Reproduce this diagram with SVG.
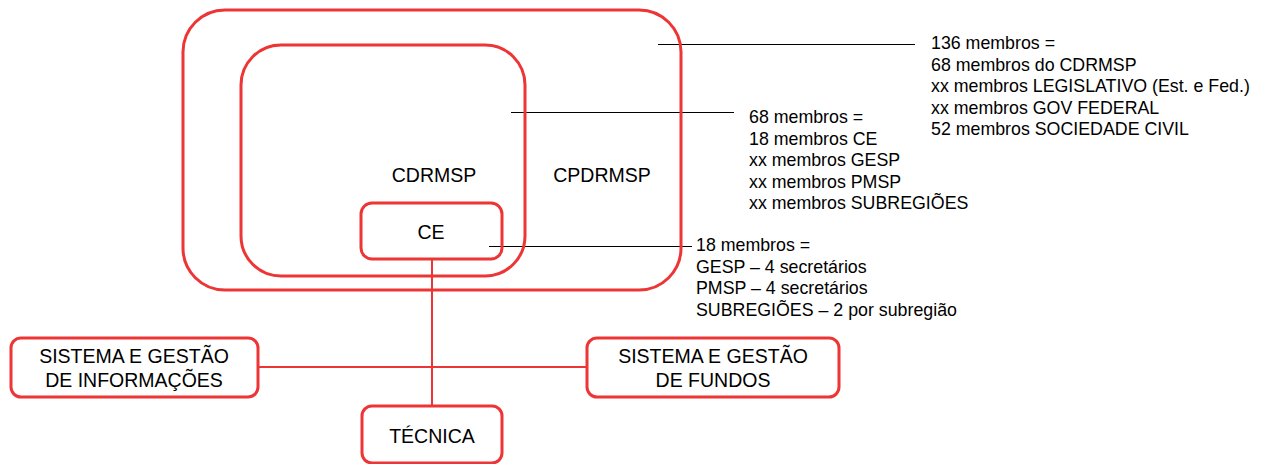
<svg xmlns="http://www.w3.org/2000/svg" width="1266" height="464" viewBox="0 0 1266 464">
<style>
.box{fill:none;stroke:#ee3535;stroke-width:3}
.con{fill:none;stroke:#ee3535;stroke-width:2}
.lead{fill:none;stroke:#000;stroke-width:1}
.lbl{font-family:"Liberation Sans",Arial,sans-serif;font-size:19.5px;fill:#000;text-anchor:middle}
.note{font-family:"Liberation Sans",Arial,sans-serif;font-size:17.8px;fill:#000}
</style>
<rect width="1266" height="464" fill="#fff"/>
<g id="connectors">
<line class="con" x1="432" y1="259" x2="432" y2="406"/>
<line class="con" x1="258" y1="367" x2="587" y2="367"/>
<line class="lead" x1="658" y1="44.5" x2="915" y2="44.5"/>
<line class="lead" x1="511" y1="112.5" x2="734" y2="112.5"/>
<line class="lead" x1="489" y1="246.5" x2="692" y2="246.5"/>
</g>
<g id="cpdrmsp">
<rect class="box" x="183" y="10" width="498" height="280" rx="42" ry="42"/>
<text class="lbl" x="602" y="182">CPDRMSP</text>
</g>
<g id="cdrmsp">
<rect class="box" x="241" y="45" width="284" height="231" rx="40" ry="40"/>
<text class="lbl" x="434" y="182">CDRMSP</text>
</g>
<g id="ce">
<rect class="box" x="361" y="203" width="141" height="56" rx="11" ry="11"/>
<text class="lbl" x="431" y="239">CE</text>
</g>
<g id="sgi">
<rect class="box" x="11" y="338" width="247" height="59" rx="10" ry="10"/>
<text class="lbl" x="134" y="363">SISTEMA E GESTÃO</text>
<text class="lbl" x="134" y="387">DE INFORMAÇÕES</text>
</g>
<g id="sgf">
<rect class="box" x="587" y="338" width="252" height="59" rx="10" ry="10"/>
<text class="lbl" x="713" y="363">SISTEMA E GESTÃO</text>
<text class="lbl" x="713" y="387">DE FUNDOS</text>
</g>
<g id="tecnica">
<rect class="box" x="362" y="406" width="140" height="57" rx="10" ry="10"/>
<text class="lbl" x="432" y="443">TÉCNICA</text>
</g>
<g id="note136">
<text class="note" x="931" y="49">136 membros =</text>
<text class="note" x="931" y="70.5">68 membros do CDRMSP</text>
<text class="note" x="931" y="92">xx membros LEGISLATIVO (Est. e Fed.)</text>
<text class="note" x="931" y="113.5">xx membros GOV FEDERAL</text>
<text class="note" x="931" y="135">52 membros SOCIEDADE CIVIL</text>
</g>
<g id="note68">
<text class="note" x="749" y="123">68 membros =</text>
<text class="note" x="749" y="144.5">18 membros CE</text>
<text class="note" x="749" y="166">xx membros GESP</text>
<text class="note" x="749" y="187.5">xx membros PMSP</text>
<text class="note" x="749" y="209">xx membros SUBREGIÕES</text>
</g>
<g id="note18">
<text class="note" x="696" y="251">18 membros =</text>
<text class="note" x="696" y="272.5">GESP – 4 secretários</text>
<text class="note" x="696" y="294">PMSP – 4 secretários</text>
<text class="note" x="696" y="315.5">SUBREGIÕES – 2 por subregião</text>
</g>
</svg>
